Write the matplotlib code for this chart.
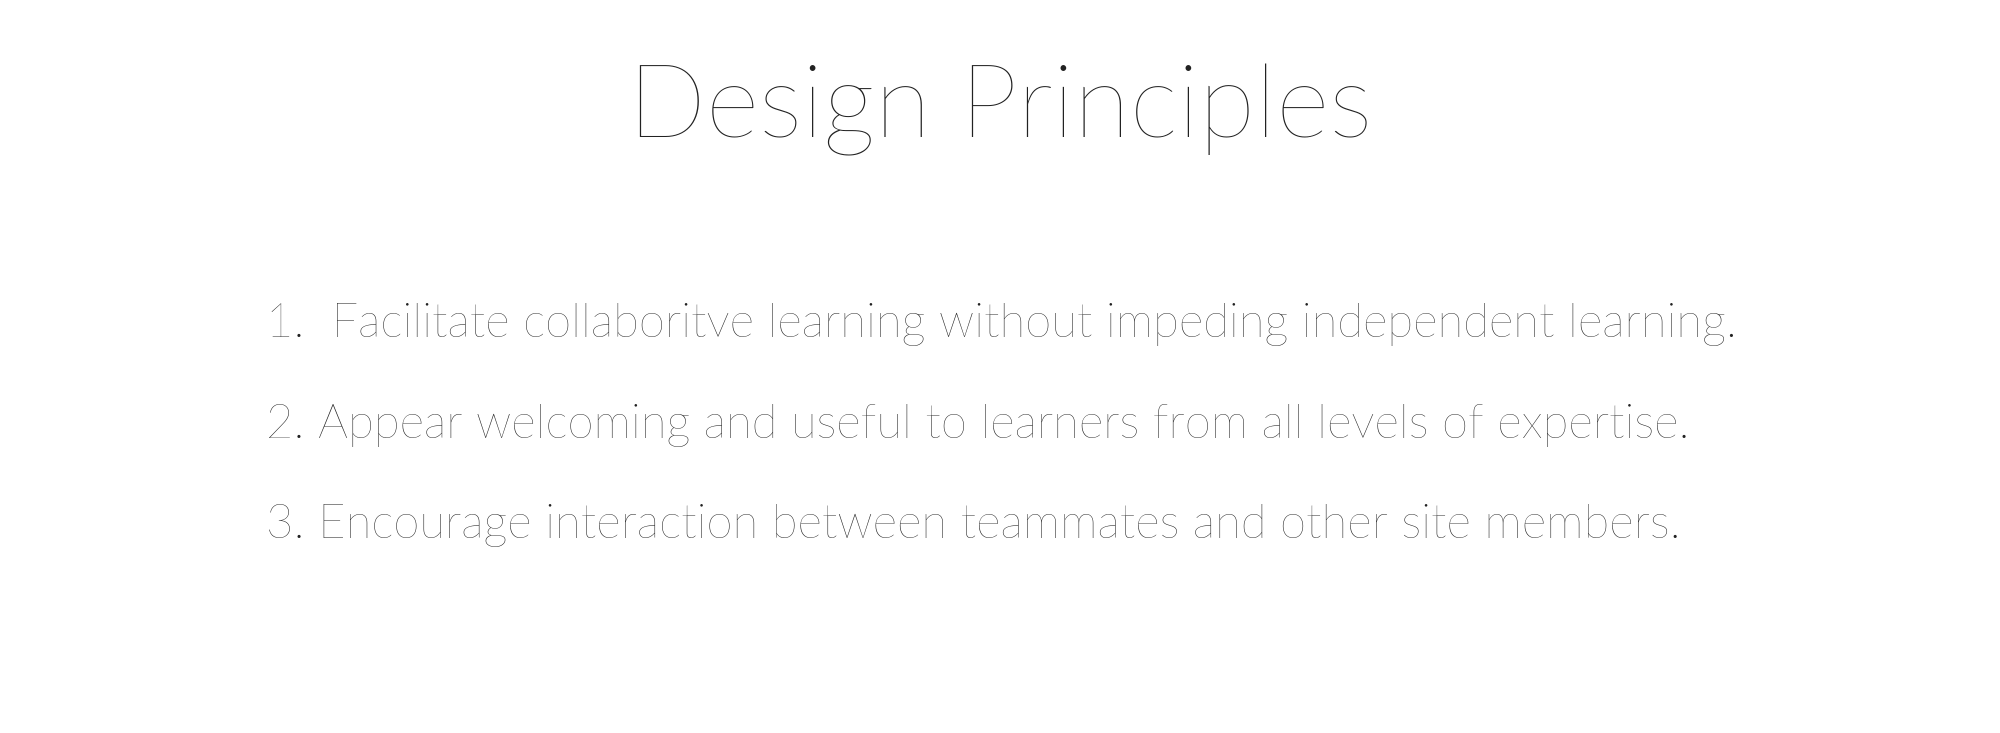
import matplotlib

matplotlib.use("Agg")
import matplotlib.pyplot as plt

TITLE = "Design Principles"
PRINCIPLES = [
    "1.  Facilitate collaboritve learning without impeding independent learning.",
    "2. Appear welcoming and useful to learners from all levels of expertise.",
    "3. Encourage interaction between teammates and other site members.",
]
LINE_Y = [0.557, 0.420, 0.283]  # axes fraction, from bottom

plt.rcParams["font.family"] = ["Lato", "DejaVu Sans"]

fig = plt.figure(figsize=(20, 7.33), dpi=100)
fig.patch.set_facecolor("#FFFFFF")
ax = fig.add_axes([0, 0, 1, 1])
ax.set_axis_off()

ax.text(0.5, 0.85, TITLE, ha="center", va="center", fontsize=74,
        fontweight="light", color="#222222")
for txt, y in zip(PRINCIPLES, LINE_Y):
    ax.text(0.133, y, txt, ha="left", va="center", fontsize=34,
            fontweight="light", color="#222222")

fig.savefig("out.png")
